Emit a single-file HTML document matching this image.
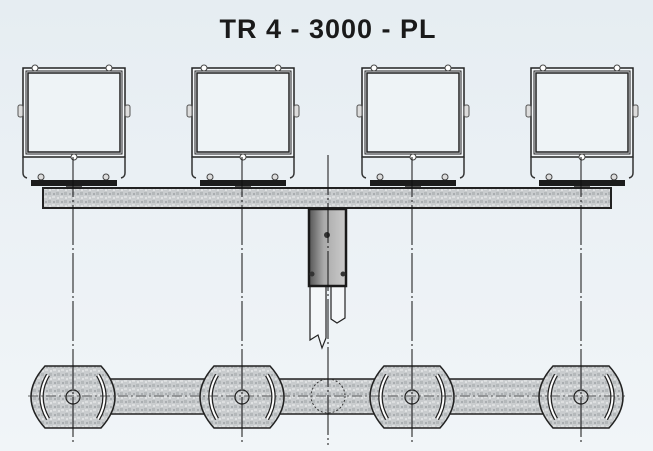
<!DOCTYPE html><html><head><style>html,body{margin:0;width:653px;height:451px;overflow:hidden}body{background:linear-gradient(#e6edf2,#f1f5f8)}svg{display:block}</style></head><body>
<svg width="653" height="451" viewBox="0 0 653 451" xmlns="http://www.w3.org/2000/svg">
<defs>
<pattern id="g" width="8" height="8" patternUnits="userSpaceOnUse"><rect width="8" height="8" fill="#c9ccce"/><rect x="0" y="0" width="3" height="3" fill="#b4b8ba"/><rect x="4" y="4" width="3" height="2" fill="#dcdedf"/><rect x="5" y="1" width="2" height="2" fill="#a9adb0"/><rect x="1" y="5" width="2" height="2" fill="#e0e2e3"/></pattern>
<linearGradient id="pg" x1="0" x2="1"><stop offset="0" stop-color="#555"/><stop offset=".4" stop-color="#aaa"/><stop offset="1" stop-color="#ccc"/></linearGradient>
<g id="fx">
<rect x="-50" y="0" width="102" height="89" fill="#f4f7f9" stroke="#222" stroke-width="1.5"/>
<rect x="-47" y="3" width="96" height="83" fill="none" stroke="#222" stroke-width="1"/>
<rect x="-45" y="5" width="92" height="79" fill="#eef3f6" stroke="#222" stroke-width="1.5"/>
<circle cx="-38" cy="0" r="3" fill="#fff" stroke="#444"/><circle cx="36" cy="0" r="3" fill="#fff" stroke="#444"/>
<circle cx="1" cy="89" r="3" fill="#fff" stroke="#444"/>
<rect x="-55" y="37" width="5" height="12" rx="2" fill="#ddd" stroke="#555"/><rect x="52" y="37" width="5" height="12" rx="2" fill="#ddd" stroke="#555"/>
<path d="M-50 89 V105 q0 4 4 5 M52 89 V105 q0 4 -4 5" fill="none" stroke="#333" stroke-width="1.5"/>
<circle cx="-32" cy="109" r="3" fill="#ddd" stroke="#444"/><circle cx="33" cy="109" r="3" fill="#ddd" stroke="#444"/>
<rect x="-42" y="112" width="86" height="6" fill="#1c1c1c"/>
<rect x="-7" y="118" width="16" height="2" fill="#555"/>
</g>
<g id="disc">
<path d="M-28 -31 H28 Q56 0 28 31 H-28 Q-56 0 -28 -31Z" fill="url(#g)" stroke="#222" stroke-width="1.5"/>
<path d="M-25 -22 Q-38 0 -25 22" fill="none" stroke="#222" stroke-width="4.5"/><path d="M-25 -22 Q-38 0 -25 22" fill="none" stroke="#fff" stroke-width="2"/>
<path d="M25 -22 Q38 0 25 22" fill="none" stroke="#222" stroke-width="4.5"/><path d="M25 -22 Q38 0 25 22" fill="none" stroke="#fff" stroke-width="2"/>
<circle r="7" fill="none" stroke="#222" stroke-width="1.2"/>
</g>
</defs>
<text x="328" y="38" text-anchor="middle" font-family="Liberation Sans, sans-serif" font-weight="bold" font-size="27" letter-spacing="1" fill="#1a1a1a">TR 4 - 3000 - PL</text>
<use href="#fx" x="73" y="68"/><use href="#fx" x="242" y="68"/><use href="#fx" x="412" y="68"/><use href="#fx" x="581" y="68"/>
<rect x="43" y="188" width="568" height="20" fill="url(#g)" stroke="#222" stroke-width="2"/>
<path d="M310 286 V340 L318 335 L322 348 L326 338 V286 M331 286 V319 L337 323 L345 318 V286" fill="#f4f7f9" stroke="#222" stroke-width="1.2"/>
<rect x="309" y="209" width="37" height="77" fill="url(#pg)" stroke="#1a1a1a" stroke-width="2.5"/>
<circle cx="327" cy="235" r="3" fill="#333"/><circle cx="312" cy="274" r="2.5" fill="#333"/><circle cx="343" cy="274" r="2.5" fill="#333"/>
<rect x="100" y="379" width="450" height="35" fill="url(#g)" stroke="#222" stroke-width="1.5"/>
<use href="#disc" x="73" y="397"/><use href="#disc" x="242" y="397"/><use href="#disc" x="412" y="397"/><use href="#disc" x="581" y="397"/>
<circle cx="328" cy="396" r="17" fill="none" stroke="#333" stroke-dasharray="2 2"/>
<line x1="28" y1="396" x2="625" y2="396" stroke="#333" stroke-width="0.8" stroke-dasharray="10 3 2 3"/>
<g stroke="#111" stroke-width="1" stroke-dasharray="40 3 2 3">
<line x1="73" y1="157" x2="73" y2="445"/><line x1="242" y1="157" x2="242" y2="445"/><line x1="412" y1="157" x2="412" y2="445"/><line x1="581" y1="157" x2="581" y2="445"/><line x1="328" y1="155" x2="328" y2="445"/>
</g>
</svg></body></html>
